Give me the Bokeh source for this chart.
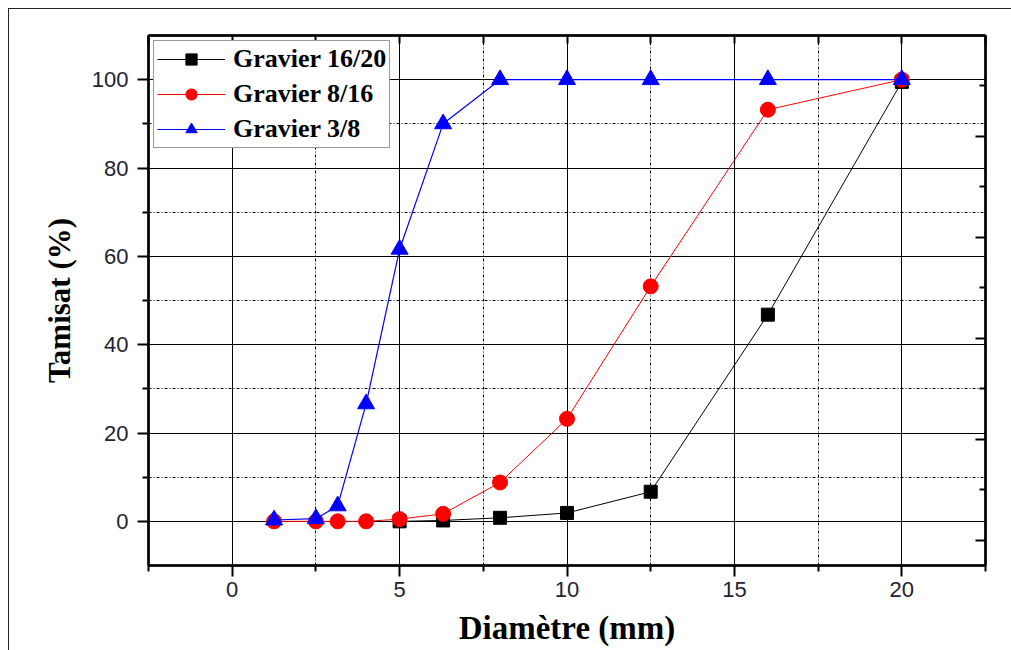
from bokeh.plotting import figure
from bokeh.models import FixedTicker, LinearAxis, Range1d, Legend, LegendItem, Grid
from bokeh.embed import file_html
from bokeh.resources import INLINE

# ---- data ----
x_1620 = [5, 6.3, 8, 10, 12.5, 16, 20]
y_1620 = [0.0, 0.2, 0.8, 1.9, 6.7, 46.8, 99.5]

x_816 = [1.25, 2.5, 3.15, 4, 5, 6.3, 8, 10, 12.5, 16, 20]
y_816 = [0.0, 0.0, 0.0, 0.0, 0.5, 1.7, 8.8, 23.2, 53.2, 93.2, 100.0]

x_38 = [1.25, 2.5, 3.15, 4, 5, 6.3, 8, 10, 12.5, 16, 20]
y_38 = [0.3, 0.6, 3.5, 26.6, 61.6, 90.0, 100.0, 100.0, 100.0, 100.0, 100.0]

x_major = [0, 5, 10, 15, 20]
x_minor = [-2.5, 2.5, 7.5, 12.5, 17.5, 22.5]
y_major = [0, 20, 40, 60, 80, 100]
y_minor = [10, 30, 50, 70, 90]

labels = ["Gravier 16/20", "Gravier 8/16", "Gravier 3/8"]

SERIF = "Liberation Serif"
SANS = "Liberation Sans"

OFF = 9  # outer picture frame offset (margin 8 + border)

p = figure(frame_width=837, frame_height=530, width=1011 - OFF, height=650 - OFF,
           x_range=Range1d(-2.5, 22.5), y_range=Range1d(-10, 110),
           output_backend="svg", toolbar_location=None,
           min_border_left=148 - OFF, min_border_right=26, min_border_top=35 - OFF,
           min_border_bottom=85, x_axis_type=None, y_axis_type=None,
           margin=(8, 0, 0, 8),
           styles={"border-left": "1px solid #222222", "border-top": "1px solid #222222"})
p.background_fill_color = "white"
p.border_fill_color = "white"
p.outline_line_color = "black"
p.outline_line_width = 2

# bottom axis
xb = LinearAxis(ticker=FixedTicker(ticks=x_major, minor_ticks=x_minor))
xb.axis_label = "Diamètre (mm)"
xb.axis_line_width = 2.5
xb.major_tick_out = 11
xb.major_tick_in = 0
xb.minor_tick_out = 6
xb.minor_tick_in = 0
xb.major_tick_line_width = 2
xb.minor_tick_line_width = 2
xb.major_label_text_font = SANS
xb.major_label_text_font_size = "22px"
xb.major_label_text_color = "#222233"
xb.major_label_standoff = 5
xb.axis_label_text_font = SERIF
xb.axis_label_text_font_style = "bold"
xb.axis_label_text_font_size = "33px"
xb.axis_label_text_color = "black"
xb.axis_label_standoff = 10
p.add_layout(xb, "below")

yl = LinearAxis(ticker=FixedTicker(ticks=y_major, minor_ticks=y_minor))
yl.axis_label = "Tamisat (%)"
yl.axis_line_width = 2.5
yl.major_tick_out = 11
yl.major_tick_in = 0
yl.minor_tick_out = 6
yl.minor_tick_in = 0
yl.major_tick_line_width = 2
yl.minor_tick_line_width = 2
yl.major_label_text_font = SANS
yl.major_label_text_font_size = "22px"
yl.major_label_text_color = "#222233"
yl.major_label_standoff = 9
yl.axis_label_text_font = SERIF
yl.axis_label_text_font_style = "bold"
yl.axis_label_text_font_size = "31px"
yl.axis_label_text_color = "black"
yl.axis_label_standoff = 12
p.add_layout(yl, "left")

# top axis: inward ticks every 2.5, no labels
top_ticks = sorted(x_major + x_minor)
xt = LinearAxis(ticker=FixedTicker(ticks=top_ticks, minor_ticks=[]))
xt.axis_line_width = 2.5
xt.major_tick_in = 8
xt.major_tick_out = 0
xt.major_tick_line_width = 2
xt.major_label_overrides = {t: "" for t in top_ticks}
xt.major_label_standoff = 0
p.add_layout(xt, "above")

# right axis (own scale, inward ticks, no labels)
p.extra_y_ranges = {"right": Range1d(-5, 100)}
r_major = [0, 20, 40, 60, 80]
yr = LinearAxis(y_range_name="right",
                ticker=FixedTicker(ticks=r_major, minor_ticks=[10, 30, 50, 70, 90]))
yr.axis_line_width = 2.5
yr.major_tick_in = 10
yr.major_tick_out = 0
yr.minor_tick_in = 6
yr.minor_tick_out = 0
yr.major_tick_line_width = 2
yr.minor_tick_line_width = 2
yr.major_label_overrides = {t: "" for t in r_major}
yr.major_label_standoff = 0
p.add_layout(yr, "right")

# grids
gx = Grid(dimension=0, ticker=FixedTicker(ticks=x_major, minor_ticks=x_minor))
gy = Grid(dimension=1, ticker=FixedTicker(ticks=y_major, minor_ticks=y_minor))
for g in (gx, gy):
    g.grid_line_color = "black"
    g.grid_line_width = 1
    g.minor_grid_line_color = "black"
    g.minor_grid_line_width = 1
    g.minor_grid_line_dash = "3 2 1 2"
    p.add_layout(g)

# series
l1 = p.line(x_1620, y_1620, line_color="black", line_width=1)
m1 = p.scatter(x_1620, y_1620, marker="square", size=13, fill_color="black", line_color="black")
l2 = p.line(x_816, y_816, line_color="red", line_width=1)
m2 = p.scatter(x_816, y_816, marker="circle", size=15, fill_color="red", line_color="red")
l3 = p.line(x_38, y_38, line_color="blue", line_width=1.2)
m3 = p.scatter(x_38, y_38, marker="triangle", size=17, fill_color="blue", line_color="blue")

legend = Legend(items=[LegendItem(label=labels[0], renderers=[l1, m1]),
                       LegendItem(label=labels[1], renderers=[l2, m2]),
                       LegendItem(label=labels[2], renderers=[l3, m3])],
                location="top_left")
legend.margin = 5
legend.padding = 3
legend.spacing = 5
legend.glyph_width = 68
legend.glyph_height = 28
legend.label_height = 28
legend.label_standoff = 8
legend.label_text_font = SERIF
legend.label_text_font_style = "bold"
legend.label_text_font_size = "26px"
legend.label_text_color = "black"
legend.border_line_color = "#333333"
legend.border_line_width = 1.2
legend.background_fill_color = "white"
legend.background_fill_alpha = 1
p.add_layout(legend)

open("out.html", "w").write(file_html(p, INLINE))
